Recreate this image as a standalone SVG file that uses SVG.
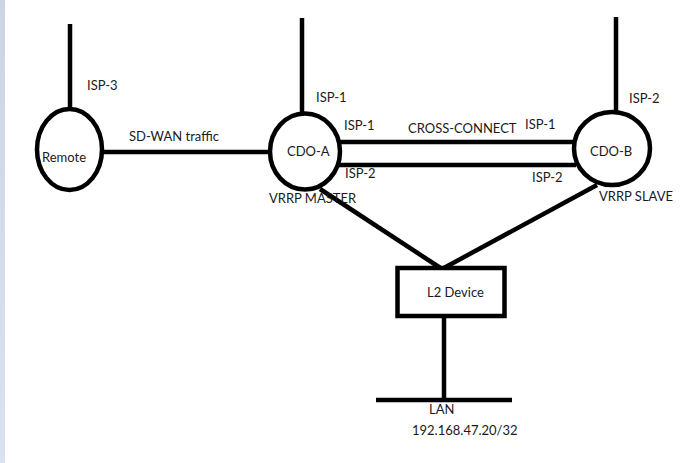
<svg xmlns="http://www.w3.org/2000/svg" width="698" height="463" viewBox="0 0 698 463">
<defs>
<linearGradient id="strip" x1="0" y1="0" x2="0" y2="1">
<stop offset="0" stop-color="#cbd5e5"/>
<stop offset="1" stop-color="#d9e2f0"/>
</linearGradient>
</defs>
<style>
.ln{stroke:#000;stroke-width:4.5;fill:none}
.sh{stroke:#000;stroke-width:4.5;fill:#fff}
text{font-family:Lato,"Liberation Sans",Arial,sans-serif;font-size:13px;fill:#1a1a1a}
</style>
<rect x="0" y="0" width="698" height="463" fill="#fff"/>
<rect x="0" y="0" width="5" height="463" fill="url(#strip)"/>
<g id="connectors">
<line class="ln" x1="70" y1="24" x2="70" y2="108"/>
<line class="ln" x1="302" y1="18" x2="302" y2="112"/>
<line class="ln" x1="616" y1="17" x2="616" y2="117"/>
<line class="ln" x1="103" y1="152" x2="270" y2="152"/>
<line class="ln" x1="340" y1="142" x2="573" y2="142"/>
<line class="ln" x1="338" y1="165" x2="576" y2="165"/>
<line class="ln" x1="320" y1="189" x2="442" y2="269"/>
<line class="ln" x1="597" y1="185" x2="442" y2="269"/>
<line class="ln" x1="444" y1="316" x2="444" y2="400"/>
<line class="ln" x1="376" y1="400" x2="512" y2="400"/>
</g>
<g id="remote">
<ellipse class="sh" cx="69.5" cy="149.5" rx="32.5" ry="40.5"/>
<text x="42" y="162">Remote</text>
</g>
<g id="cdo-a">
<ellipse class="sh" cx="305" cy="151.5" rx="35" ry="38"/>
<text x="287" y="156">CDO-A</text>
</g>
<g id="cdo-b">
<ellipse class="sh" cx="612" cy="148.5" rx="38" ry="36.5"/>
<text x="590" y="156">CDO-B</text>
</g>
<g id="l2-device">
<rect class="sh" x="397.5" y="268" width="107" height="48"/>
<text x="427" y="297">L2 Device</text>
</g>
<g id="lan">
<text x="429" y="414">LAN</text>
<text x="412" y="435">192.168.47.20/32</text>
</g>
<g id="labels">
<text x="87" y="90">ISP-3</text>
<text x="129" y="141">SD-WAN traffic</text>
<text x="316" y="102">ISP-1</text>
<text x="344" y="130">ISP-1</text>
<text x="408" y="133">CROSS-CONNECT</text>
<text x="345" y="178">ISP-2</text>
<text x="269" y="203">VRRP MASTER</text>
<text x="629" y="103">ISP-2</text>
<text x="525" y="129">ISP-1</text>
<text x="532" y="182">ISP-2</text>
<text x="599" y="201">VRRP SLAVE</text>
</g>
</svg>
